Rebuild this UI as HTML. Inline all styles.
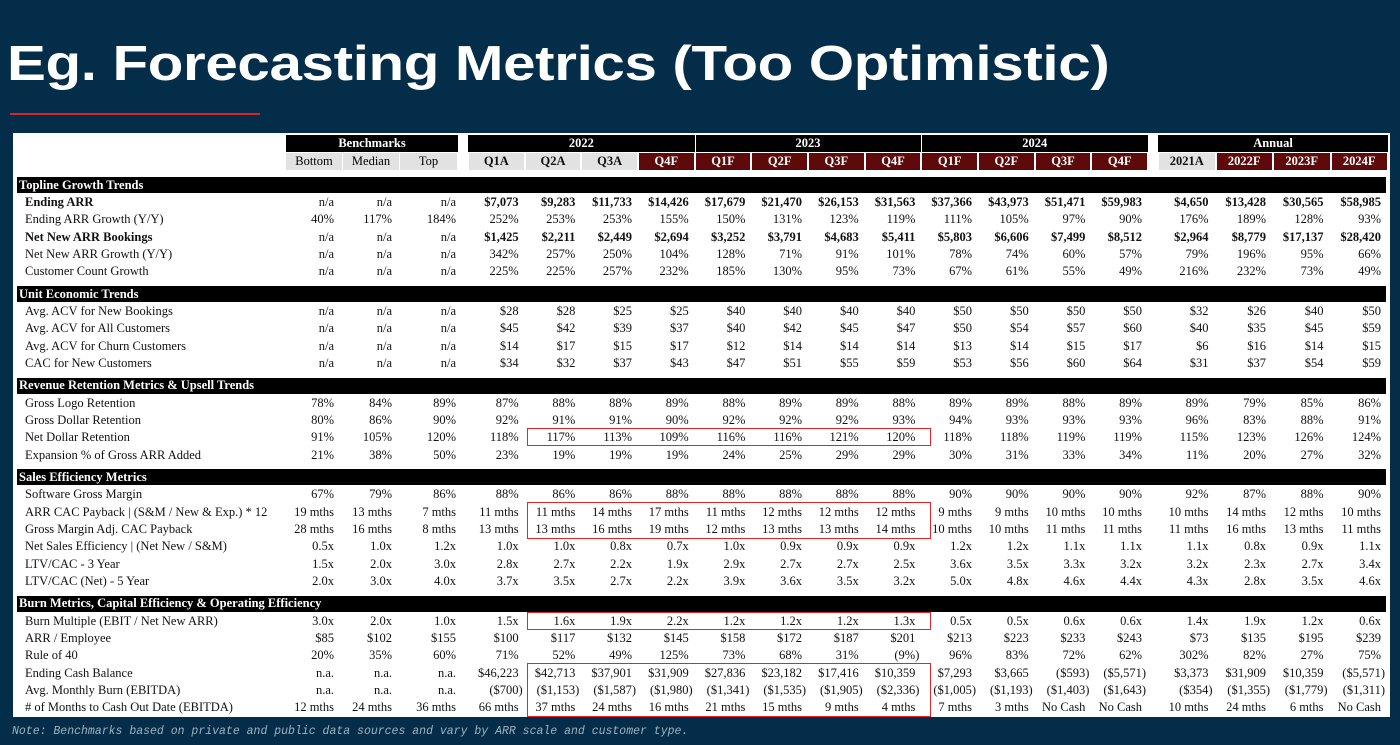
<!DOCTYPE html>
<html><head><meta charset="utf-8">
<style>
html,body{margin:0;padding:0}
body{width:1400px;height:745px;background:#032d48;position:relative;overflow:hidden;font-family:"Liberation Serif",serif}
#title{position:absolute;left:7px;top:34px;color:#fff;font-family:"Liberation Sans",sans-serif;font-weight:bold;font-size:49px;line-height:60px;white-space:nowrap;letter-spacing:-0.3px;transform:scaleX(1.19);transform-origin:0 0}
#rule{position:absolute;left:10px;top:113px;width:250px;height:2px;background:#d7262b}
#panel{position:absolute;left:13px;top:133px;width:1377px;height:584px;background:#fff}
.a{position:absolute;white-space:nowrap;font-size:12.5px;line-height:17px;color:#111}
.box{position:absolute;background:#000}
.hd{position:absolute;color:#fff;font-size:12.5px;font-weight:bold;text-align:center;line-height:17px}
.sub{position:absolute;font-size:12.5px;font-weight:bold;text-align:center;line-height:17px}
.red{position:absolute;border:1.5px solid #e0262b;box-sizing:border-box}
#note{position:absolute;left:12px;top:725px;color:#9fb3c4;font-family:"Liberation Mono",monospace;font-style:italic;font-size:11.5px}
</style></head><body>
<div id="title">Eg. Forecasting Metrics (Too Optimistic)</div>
<div id="rule"></div>
<div id="panel"></div>
<div id="note">Note: Benchmarks based on private and public data sources and vary by ARR scale and customer type.</div>
<script>
const benchHeads=["Bottom","Median","Top"];
const quarterHeads=["Q1A","Q2A","Q3A","Q4F","Q1F","Q2F","Q3F","Q4F","Q1F","Q2F","Q3F","Q4F"];
const annualHeads=["2021A","2022F","2023F","2024F"];
const yearHeads=["2022","2023","2024"];
const sections=[
["Topline Growth Trends",[
["Ending ARR",1,"n/a|n/a|n/a","$7,073|$9,283|$11,733|$14,426|$17,679|$21,470|$26,153|$31,563|$37,366|$43,973|$51,471|$59,983","$4,650|$13,428|$30,565|$58,985"],
["Ending ARR Growth (Y/Y)",0,"40%|117%|184%","252%|253%|253%|155%|150%|131%|123%|119%|111%|105%|97%|90%","176%|189%|128%|93%"],
["Net New ARR Bookings",1,"n/a|n/a|n/a","$1,425|$2,211|$2,449|$2,694|$3,252|$3,791|$4,683|$5,411|$5,803|$6,606|$7,499|$8,512","$2,964|$8,779|$17,137|$28,420"],
["Net New ARR Growth (Y/Y)",0,"n/a|n/a|n/a","342%|257%|250%|104%|128%|71%|91%|101%|78%|74%|60%|57%","79%|196%|95%|66%"],
["Customer Count Growth",0,"n/a|n/a|n/a","225%|225%|257%|232%|185%|130%|95%|73%|67%|61%|55%|49%","216%|232%|73%|49%"]]],
["Unit Economic Trends",[
["Avg. ACV for New Bookings",0,"n/a|n/a|n/a","$28|$28|$25|$25|$40|$40|$40|$40|$50|$50|$50|$50","$32|$26|$40|$50"],
["Avg. ACV  for All Customers",0,"n/a|n/a|n/a","$45|$42|$39|$37|$40|$42|$45|$47|$50|$54|$57|$60","$40|$35|$45|$59"],
["Avg. ACV for Churn Customers",0,"n/a|n/a|n/a","$14|$17|$15|$17|$12|$14|$14|$14|$13|$14|$15|$17","$6|$16|$14|$15"],
["CAC for New Customers",0,"n/a|n/a|n/a","$34|$32|$37|$43|$47|$51|$55|$59|$53|$56|$60|$64","$31|$37|$54|$59"]]],
["Revenue Retention Metrics & Upsell Trends",[
["Gross Logo Retention",0,"78%|84%|89%","87%|88%|88%|89%|88%|89%|89%|88%|89%|89%|88%|89%","89%|79%|85%|86%"],
["Gross Dollar Retention",0,"80%|86%|90%","92%|91%|91%|90%|92%|92%|92%|93%|94%|93%|93%|93%","96%|83%|88%|91%"],
["Net Dollar Retention",0,"91%|105%|120%","118%|117%|113%|109%|116%|116%|121%|120%|118%|118%|119%|119%","115%|123%|126%|124%"],
["Expansion % of Gross ARR Added",0,"21%|38%|50%","23%|19%|19%|19%|24%|25%|29%|29%|30%|31%|33%|34%","11%|20%|27%|32%"]]],
["Sales Efficiency Metrics",[
["Software Gross Margin",0,"67%|79%|86%","88%|86%|86%|88%|88%|88%|88%|88%|90%|90%|90%|90%","92%|87%|88%|90%"],
["ARR CAC Payback | (S&M / New & Exp.) * 12",0,"19 mths|13 mths|7 mths","11 mths|11 mths|14 mths|17 mths|11 mths|12 mths|12 mths|12 mths|9 mths|9 mths|10 mths|10 mths","10 mths|14 mths|12 mths|10 mths"],
["Gross Margin Adj. CAC Payback",0,"28 mths|16 mths|8 mths","13 mths|13 mths|16 mths|19 mths|12 mths|13 mths|13 mths|14 mths|10 mths|10 mths|11 mths|11 mths","11 mths|16 mths|13 mths|11 mths"],
["Net Sales Efficiency | (Net New / S&M)",0,"0.5x|1.0x|1.2x","1.0x|1.0x|0.8x|0.7x|1.0x|0.9x|0.9x|0.9x|1.2x|1.2x|1.1x|1.1x","1.1x|0.8x|0.9x|1.1x"],
["LTV/CAC - 3 Year",0,"1.5x|2.0x|3.0x","2.8x|2.7x|2.2x|1.9x|2.9x|2.7x|2.7x|2.5x|3.6x|3.5x|3.3x|3.2x","3.2x|2.3x|2.7x|3.4x"],
["LTV/CAC (Net)  - 5 Year",0,"2.0x|3.0x|4.0x","3.7x|3.5x|2.7x|2.2x|3.9x|3.6x|3.5x|3.2x|5.0x|4.8x|4.6x|4.4x","4.3x|2.8x|3.5x|4.6x"]]],
["Burn Metrics, Capital Efficiency & Operating Efficiency",[
["Burn Multiple (EBIT / Net New ARR)",0,"3.0x|2.0x|1.0x","1.5x|1.6x|1.9x|2.2x|1.2x|1.2x|1.2x|1.3x|0.5x|0.5x|0.6x|0.6x","1.4x|1.9x|1.2x|0.6x"],
["ARR / Employee",0,"$85|$102|$155","$100|$117|$132|$145|$158|$172|$187|$201|$213|$223|$233|$243","$73|$135|$195|$239"],
["Rule of 40",0,"20%|35%|60%","71%|52%|49%|125%|73%|68%|31%|(9%)|96%|83%|72%|62%","302%|82%|27%|75%"],
["Ending Cash Balance",0,"n.a.|n.a.|n.a.","$46,223|$42,713|$37,901|$31,909|$27,836|$23,182|$17,416|$10,359|$7,293|$3,665|($593)|($5,571)","$3,373|$31,909|$10,359|($5,571)"],
["Avg. Monthly Burn (EBITDA)",0,"n.a.|n.a.|n.a.","($700)|($1,153)|($1,587)|($1,980)|($1,341)|($1,535)|($1,905)|($2,336)|($1,005)|($1,193)|($1,403)|($1,643)","($354)|($1,355)|($1,779)|($1,311)"],
["# of Months to Cash Out Date (EBITDA)",0,"12 mths|24 mths|36 mths","66 mths|37 mths|24 mths|16 mths|21 mths|15 mths|9 mths|4 mths|7 mths|3 mths|No Cash|No Cash","10 mths|24 mths|6 mths|No Cash"]]]
];
const B=document.body;
function mk(cls,x,y,w,h,txt){const d=document.createElement('div');d.className=cls;d.style.left=x+'px';d.style.top=y+'px';if(w!=null)d.style.width=w+'px';if(h!=null)d.style.height=h+'px';if(txt!=null)d.textContent=txt;B.appendChild(d);return d;}
const benchL=[286,343,400],benchW=[57,57,58],benchR=[334,392,456];
const qL=[],qR=[];for(let i=0;i<12;i++){qL.push(468+i*56.67);qR.push(468+(i+1)*56.67-6);}
const aL=[],aR=[];for(let i=0;i<4;i++){aL.push(1158+i*57.5);aR.push(1158+(i+1)*57.5-7);}
let h=mk('box',286,135,172,17);
h=mk('hd',286,135,172,17,'Benchmarks');
for(let y=0;y<3;y++){
 h=mk('box',468+y*226.7+(y?1:0),135,226.7-(y?1:0),17);
 h=mk('hd',468+y*226.7,135,226.7,17,yearHeads[y]);
}
h=mk('box',1158,135,230,17);
h=mk('hd',1158,135,230,17,'Annual');
for(let i=0;i<3;i++){h=mk('sub',benchL[i],153,benchW[i]-1,17,benchHeads[i]);h.style.background='#e2e2e2';h.style.fontWeight='normal';
 }
for(let i=0;i<12;i++){h=mk('sub',qL[i]+1,153,55.67-1,17,quarterHeads[i]);const act=i<3;h.style.background=act?'#e2e2e2':'#5e0a0a';h.style.color=act?'#111':'#fff';
 }
for(let i=0;i<4;i++){h=mk('sub',aL[i]+1,153,55.5,17,annualHeads[i]);const act=i==0;h.style.background=act?'#e2e2e2':'#5e0a0a';h.style.color=act?'#111':'#fff';
 }
let y=177;
for(const [sname,rows] of sections){
 const bar=mk('box',17,y,1369,16);
 
 
 const st=mk('a',19,y-0.5,null,null,sname);st.style.color='#fff';st.style.fontWeight='bold';
 
 
 y+=17;
 for(const r of rows){
  const lab=mk('a',25,y,null,null,r[0]);if(r[1])lab.style.fontWeight='bold';
  
  
  const put=(vals,R,bold)=>{vals.split('|').forEach((v,i)=>{const paren=v.endsWith(')');const c=mk('a',0,y,null,null,v);c.style.left='auto';c.style.right=(1400-R[i]-(paren?4:0))+'px';if(bold)c.style.fontWeight='bold';
   
   });};
  put(r[2],benchR,false);put(r[3],qR,r[1]);put(r[4],aR,r[1]);
  y+=17.3;
 }
 y+=5.5;
}
const hl=[[428,18],[502,37],[612,18],[663,54]];
for(const [t,hh] of hl){const b=mk('red',527,t,404,hh);
 
 }
</script>
</body></html>
